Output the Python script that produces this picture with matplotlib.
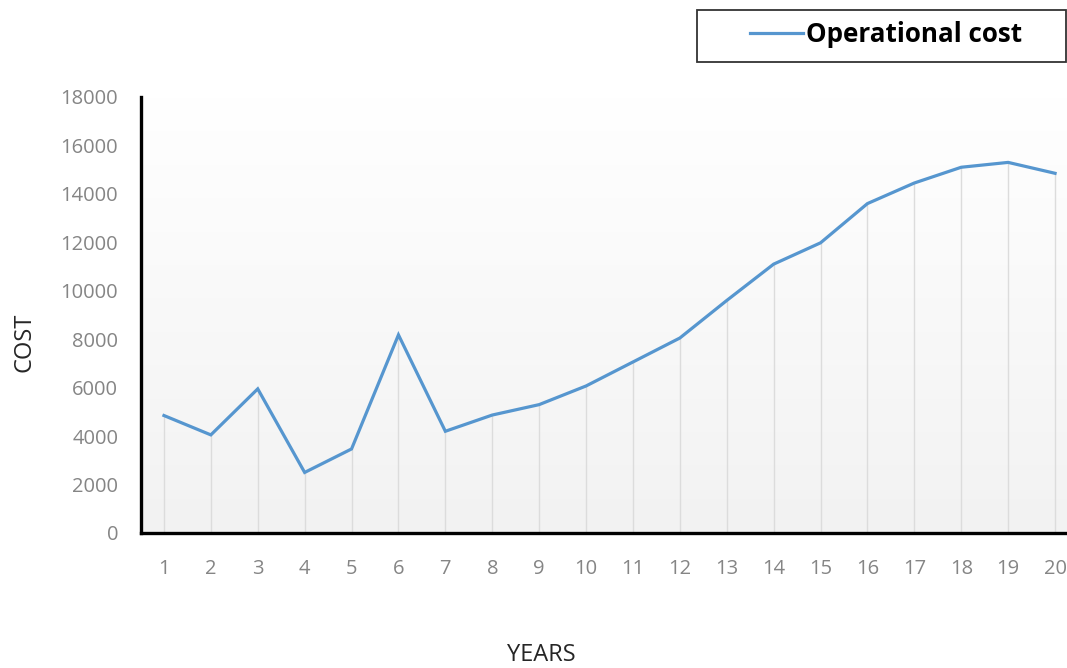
import matplotlib.pyplot as plt
import numpy as np
from matplotlib.patches import Rectangle
from matplotlib.lines import Line2D

# yearly operational cost
years = list(range(1, 21))
cost = [4850, 4050, 5950, 2500, 3470, 8180, 4200, 4870, 5300, 6070,
        7060, 8050, 9600, 11100, 11980, 13600, 14450, 15100, 15300, 14850]
y_ticks = [0, 2000, 4000, 6000, 8000, 10000, 12000, 14000, 16000, 18000]

plt.rcParams['font.family'] = ['Open Sans', 'DejaVu Sans']

W, H = 1067, 668
fig = plt.figure(figsize=(W / 100, H / 100), dpi=100)
ax = fig.add_axes([140.5 / W, 1 - 533 / H, 938 / W, (533 - 97) / H])

# soft vertical gradient behind the plot
grad = np.linspace(0, 1, 256).reshape(-1, 1)
ax.imshow(grad, cmap=plt.matplotlib.colors.LinearSegmentedColormap.from_list(
    'bg', ['#f2f2f2', '#ffffff']), aspect='auto', extent=(0, 1, 0, 1),
    transform=ax.transAxes, origin='lower', zorder=0)

line_color = '#5696cf'
ax.vlines(years, 0, cost, color='#dcdcdc', lw=1, zorder=1)
ax.plot(years, cost, color=line_color, lw=2.3, zorder=3,
        solid_joinstyle='miter')

ax.set_xlim(0.5, 20.5)
ax.set_ylim(0, 18000)
ax.set_xticks(years)
ax.set_yticks(y_ticks)
ax.tick_params(axis='both', length=0, labelsize=14.5, labelcolor='#858585')
ax.tick_params(axis='y', pad=16)
ax.tick_params(axis='x', pad=19)

for s in ['top', 'right']:
    ax.spines[s].set_visible(False)
for s in ['left', 'bottom']:
    ax.spines[s].set_linewidth(2.4)
    ax.spines[s].set_color('black')

fig.text(25 / W, 1 - 342 / H, 'COST', rotation=90, ha='center', va='center',
         fontsize=17, color='#262626')
fig.text(541 / W, 1 - 655 / H, 'YEARS', ha='center', va='center',
         fontsize=17, color='#262626')

# legend box
fig.patches.append(Rectangle((697 / W, 1 - 62 / H), 369 / W, 52 / H,
                             transform=fig.transFigure, fill=False,
                             edgecolor='#333333', lw=1.3))
fig.lines.append(Line2D([750 / W, 803 / W], [1 - 33 / H, 1 - 33 / H],
                        transform=fig.transFigure, color=line_color, lw=2.3))
fig.text(806 / W, 1 - 34 / H, 'Operational cost', ha='left', va='center',
         fontsize=18.7, fontweight='bold', color='black')

fig.savefig('out.png', dpi=100)
